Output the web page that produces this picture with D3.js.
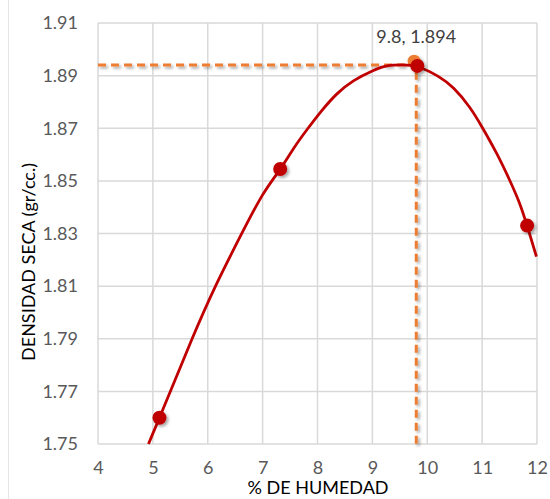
<!DOCTYPE html>
<html>
<head>
<meta charset="utf-8">
<script src="https://cdn.jsdelivr.net/npm/d3@7"></script>
<style>
html,body{margin:0;padding:0;background:#fff;}
svg{display:block;}
</style>
</head>
<body>
<script>
// Data points
const pointX = [5.12, 7.32, 9.82, 11.82];
const pointY = [1.760, 1.8545, 1.8937, 1.833];
// Trend curve readings
const trendX = [4.92, 5.12, 5.32, 5.71, 6.13, 6.62, 7.0, 7.33, 7.56, 7.80, 8.08, 8.35, 8.65, 9.02, 9.26, 9.55, 9.81, 10.23, 10.47, 10.78, 11.0, 11.27, 11.51, 11.69, 11.82, 11.99];
const trendY = [1.750, 1.760, 1.770, 1.790, 1.810, 1.830, 1.8455, 1.8544, 1.8624, 1.8693, 1.8769, 1.8833, 1.8883, 1.8921, 1.8940, 1.8941, 1.8940, 1.8896, 1.8858, 1.8782, 1.8705, 1.8605, 1.850, 1.8415, 1.833, 1.8212];
// Optimum reference lines
const optX = [4, 9.8, 9.8];
const optY = [1.894, 1.894, 1.75];
const optMarker = [9.76, 1.8955];
const optLabel = "9.8, 1.894";
const xTicks = [4, 5, 6, 7, 8, 9, 10, 11, 12];
const yTicks = [1.75, 1.77, 1.79, 1.81, 1.83, 1.85, 1.87, 1.89, 1.91];
const xTitle = "% DE HUMEDAD";
const yTitle = "DENSIDAD SECA (gr/cc.)";

const W = 550, H = 499;
const svg = d3.select("body").append("svg").attr("width", W).attr("height", H);
const defs = svg.append("defs");
const f = defs.append("filter").attr("id", "sh").attr("x", "-50%").attr("y", "-50%").attr("width", "200%").attr("height", "200%");
f.append("feDropShadow").attr("dx", 2).attr("dy", 2).attr("stdDeviation", 1.8).attr("flood-color", "#000").attr("flood-opacity", 0.35);

const x = d3.scaleLinear().domain([4, 12]).range([98, 537]);
const y = d3.scaleLinear().domain([1.75, 1.91]).range([444, 23]);

// left frame line
svg.append("line").attr("x1", 8.5).attr("x2", 8.5).attr("y1", 0).attr("y2", H).attr("stroke", "#e6e6e6").attr("stroke-width", 1);

const grid = svg.append("g");
grid.selectAll(".vx").data(xTicks).enter().append("line")
  .attr("x1", d => x(d)).attr("x2", d => x(d)).attr("y1", y(1.91)).attr("y2", y(1.75))
  .attr("stroke", "#d9d9d9").attr("stroke-width", 1.5);
grid.selectAll(".hy").data(yTicks).enter().append("line")
  .attr("x1", x(4)).attr("x2", x(12)).attr("y1", d => y(d)).attr("y2", d => y(d))
  .attr("stroke", "#d9d9d9").attr("stroke-width", 1.5);

const font = "Lato, 'Open Sans', sans-serif";
const xAxis = svg.append("g").attr("transform", `translate(0,${y(1.75)})`)
  .call(d3.axisBottom(x).tickValues(xTicks).tickSize(0).tickPadding(17).tickFormat(d3.format("d")));
xAxis.select(".domain").remove();
xAxis.selectAll("text").attr("fill", "#595959").style("font-family", font).style("font-size", "18px");

const yAxis = svg.append("g").attr("transform", `translate(${x(4)},0)`)
  .call(d3.axisLeft(y).tickValues(yTicks).tickSize(0).tickPadding(20).tickFormat(d3.format(".2f")));
yAxis.select(".domain").remove();
yAxis.selectAll("text").attr("fill", "#595959").style("font-family", font).style("font-size", "18px");

// titles
svg.append("text").attr("x", 318).attr("y", 494).attr("text-anchor", "middle")
  .style("font-family", font).style("font-size", "18px").attr("fill", "#000").text(xTitle);
svg.append("text").attr("transform", "translate(35,262) rotate(-90)").attr("text-anchor", "middle")
  .style("font-family", font).style("font-size", "18px").attr("fill", "#000").text(yTitle);

// optimum dashed lines
const optData = optX.map((d, i) => [d, optY[i]]);
svg.append("path").datum(optData)
  .attr("d", d3.line().x(d => x(d[0])).y(d => y(d[1])))
  .attr("fill", "none").attr("stroke", "#ED7D31").attr("stroke-width", 3)
  .attr("stroke-dasharray", "8,5").attr("filter", "url(#sh)");
svg.append("circle").attr("cx", x(optMarker[0])).attr("cy", y(optMarker[1])).attr("r", 6.5)
  .attr("fill", "#ED7D31").attr("filter", "url(#sh)");

// trend curve
const trend = trendX.map((d, i) => [d, trendY[i]]);
svg.append("path").datum(trend)
  .attr("d", d3.line().curve(d3.curveBasis).x(d => x(d[0])).y(d => y(d[1])))
  .attr("fill", "none").attr("stroke", "#C00000").attr("stroke-width", 2.8).attr("stroke-linejoin", "round");

// points
svg.selectAll(".pt").data(pointX.map((d, i) => [d, pointY[i]])).enter().append("circle")
  .attr("cx", d => x(d[0])).attr("cy", d => y(d[1])).attr("r", 7)
  .attr("fill", "#C00000").attr("filter", "url(#sh)");

// label
svg.append("text").attr("x", x(9.8)).attr("y", 43).attr("text-anchor", "middle")
  .style("font-family", font).style("font-size", "18px").attr("fill", "#404040").text(optLabel);
</script>
</body>
</html>
